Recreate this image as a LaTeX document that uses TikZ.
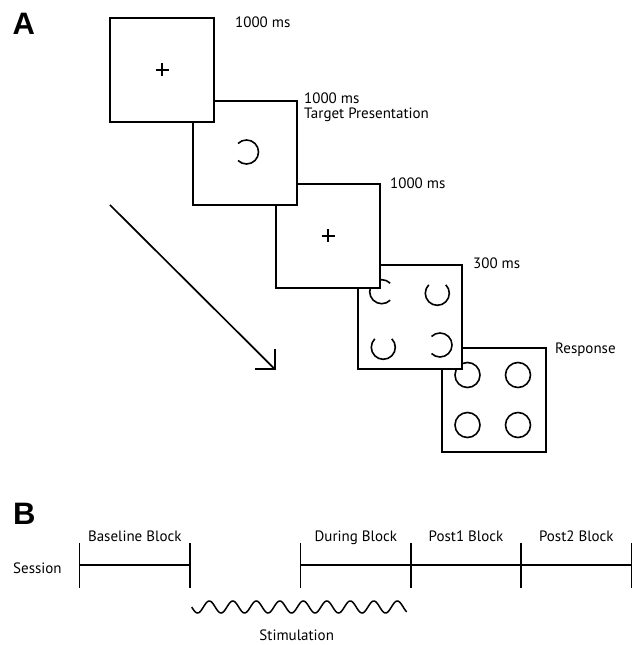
\documentclass[tikz,border=0pt]{standalone}
\usepackage{fontspec}
\setmainfont{PT Sans}
\newfontfamily\panelfont{Liberation Sans}
\usetikzlibrary{calc}
\begin{document}
\begin{tikzpicture}[x=1pt,y=1pt,
  box/.style={draw, line width=2pt, fill=white, minimum width=104pt, minimum height=104pt, inner sep=0pt, outer sep=0pt},
  glyph/.style={line width=1.6pt},
  lbl/.style={font=\fontsize{15}{18}\selectfont, inner sep=0pt, anchor=base west},
  blk/.style={font=\fontsize{15}{18}\selectfont, inner sep=0pt, anchor=base},
  panel/.style={font=\panelfont\fontsize{31}{36}\selectfont\bfseries, inner sep=0pt, anchor=base west},
  tline/.style={line width=1.4pt}]
\useasboundingbox (0,0) rectangle (636,645);

% --- Panel A: boxes drawn back to front
\node[box] (b5) at (493.7,245) {};
\draw[glyph] (467.5,270) circle[radius=12.5];
\draw[glyph] (518,270) circle[radius=12.5];
\draw[glyph] (467.5,220) circle[radius=12.5];
\draw[glyph] (518,220) circle[radius=12.5];

\node[box] (b4) at (409.5,327.5) {};
\draw[glyph] ([shift={(45:12)}]381.7,353.3) arc[start angle=45, end angle=315, radius=12];
\draw[glyph] ([shift={(135:12)}]437.3,351.7) arc[start angle=135, end angle=405, radius=12];
\draw[glyph] ([shift={(135:12)}]383.3,297.7) arc[start angle=135, end angle=405, radius=12];
\draw[glyph] ([shift={(-135:12)}]440,300) arc[start angle=-135, end angle=135, radius=12];

\node[box] (b3) at (328,409) {};
\draw[glyph] ([yshift=6.5pt]b3.center) -- ([yshift=-6.5pt]b3.center)
             ([xshift=-6.5pt]b3.center) -- ([xshift=6.5pt]b3.center);

\node[box] (b2) at (244.5,492) {};
\draw[glyph] ([shift={(135:12)}]246.5,493) arc[start angle=135, end angle=-135, radius=12];

\node[box] (b1) at (162,575) {};
\draw[glyph] ([yshift=6.5pt]b1.center) -- ([yshift=-6.5pt]b1.center)
             ([xshift=-6.5pt]b1.center) -- ([xshift=6.5pt]b1.center);

% arrow
\coordinate (as) at (110,440);
\coordinate (ae) at (275,275.7);
\draw[line width=1.7pt] (as) -- (ae);
\draw[line width=1.7pt, line join=miter] ([yshift=20pt]ae) -- (ae) -- ([xshift=-20pt]ae);

% labels
\node[lbl] (l1) at (235,617.5) {1000 ms};
\node[lbl] (l2) at (304,541.7) {1000 ms};
\node[lbl] (l2b) at (304,526.7) {Target Presentation};
\node[lbl] (l3) at (390,456.7) {1000 ms};
\node[lbl] (l4) at (473,376) {300 ms};
\node[lbl] (l5) at (555,291.5) {Response};

\node[panel] (pA) at (12.5,610.7) {A};
\node[panel] (pB) at (13,120) {B};

% --- Panel B: timeline
\coordinate (t0) at (79.5,80);
\coordinate (t1) at (190,80);
\coordinate (t2) at (300.7,80);
\coordinate (t3) at (411,80);
\coordinate (t4) at (521,80);
\coordinate (t5) at (631.7,80);
\draw[tline] (t0) -- (t1) (t2) -- (t5);
\foreach \t in {t0,t1,t2,t3,t4,t5}
  \draw[tline] ([yshift=22pt]\t) -- ([yshift=-23pt]\t);

\node[blk] (bb) at ($(t0)!0.5!(t1)+(0,23.5)$) {Baseline Block};
\node[blk] (db) at ($(t2)!0.5!(t3)+(0,23.5)$) {During Block};
\node[blk] (p1) at ($(t3)!0.5!(t4)+(0,23.5)$) {Post1 Block};
\node[blk] (p2) at ($(t4)!0.5!(t5)+(0,23.5)$) {Post2 Block};
\node[lbl] (ses) at (13,71.7) {Session};

% stimulation wave
\draw[line width=1.5pt] plot[domain=191.7:406.7, samples=300, smooth]
  (\x, {38 + 6*cos(15.3191*(\x-209.3))});
\node[blk] (stim) at (296.7,5) {Stimulation};
\end{tikzpicture}
\end{document}
